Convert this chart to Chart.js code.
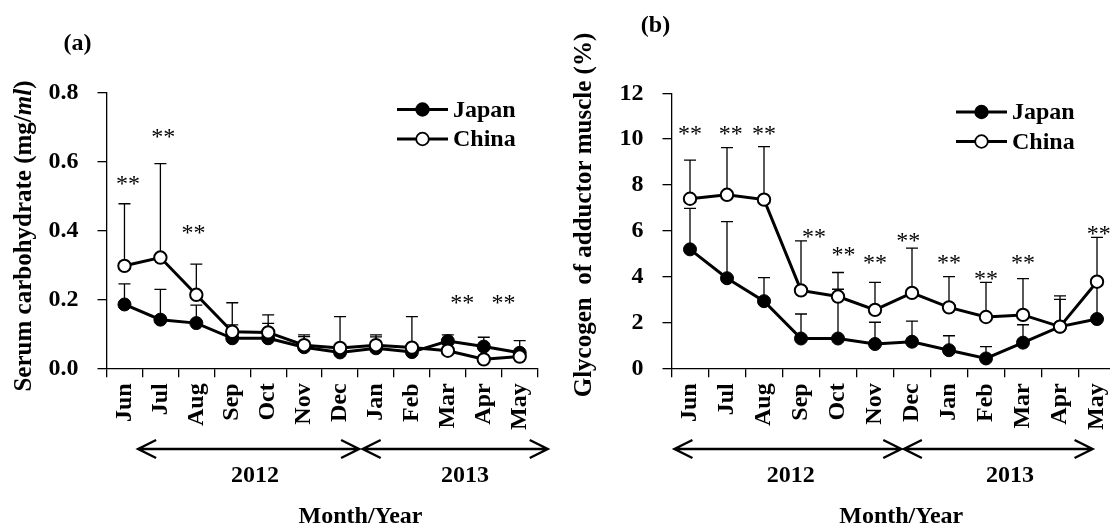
<!DOCTYPE html>
<html>
<head>
<meta charset="utf-8">
<script src="https://cdn.jsdelivr.net/npm/chart.js@4.4.1/dist/chart.umd.min.js"></script>
<style>
  html, body { margin: 0; padding: 0; background: #fff; overflow: hidden; width: 1110px; height: 526px; }
  .panel { position: absolute; top: 0; }
  #panelA { left: 0; }
  #panelB { left: 555px; }
</style>
</head>
<body>
<canvas id="panelA" class="panel" width="555" height="526"></canvas>
<canvas id="panelB" class="panel" width="600" height="526"></canvas>
<script>
// Sampling months, June 2012 to May 2013
const months = ['Jun', 'Jul', 'Aug', 'Sep', 'Oct', 'Nov', 'Dec', 'Jan', 'Feb', 'Mar', 'Apr', 'May'];

// (a) Serum carbohydrate, mg/ml: means and upper SD
const serumJapan   = [0.185, 0.141, 0.131, 0.087, 0.087, 0.061, 0.046, 0.058, 0.047, 0.079, 0.063, 0.045];
const serumJapanSD = [0.060, 0.088, 0.052, 0.039, 0.043, 0.031, 0.012, 0.033, 0.012, 0.018, 0.027, 0.035];
const serumChina   = [0.297, 0.321, 0.213, 0.106, 0.104, 0.067, 0.059, 0.067, 0.060, 0.051, 0.026, 0.034];
const serumChinaSD = [0.180, 0.272, 0.089, 0.084, 0.051, 0.030, 0.091, 0.030, 0.090, 0.020, 0.030, 0.015];
const serumTicks   = [0, 0.2, 0.4, 0.6, 0.8];

// (b) Glycogen of adductor muscle, %: means and upper SD
const glyJapan   = [5.19, 3.93, 2.93, 1.30, 1.30, 1.06, 1.16, 0.79, 0.43, 1.12, 1.82, 2.15];
const glyJapanSD = [1.79, 2.47, 1.03, 1.07, 2.15, 0.95, 0.90, 0.63, 0.52, 0.78, 1.19, 1.50];
const glyChina   = [7.40, 7.57, 7.36, 3.40, 3.13, 2.55, 3.29, 2.66, 2.24, 2.33, 1.82, 3.78];
const glyChinaSD = [1.68, 2.06, 2.31, 2.16, 1.05, 1.20, 1.95, 1.34, 1.51, 1.58, 1.34, 1.93];
const glyTicks   = [0, 2, 4, 6, 8, 10, 12];

// Significance marks (**): month and height in axis units
const sigSerum = [['Jun', 0.546], ['Jul', 0.681], ['Aug', 0.403], ['Mar', 0.200], ['Apr', 0.200]];
const sigGly   = [['Jun', 10.4], ['Jul', 10.4], ['Aug', 10.4], ['Sep', 5.89], ['Oct', 5.13], ['Nov', 4.76],
                  ['Dec', 5.72], ['Jan', 4.76], ['Feb', 4.07], ['Mar', 4.76], ['May', 6.03]];

const SERIF = "'Liberation Serif', 'Times New Roman', serif";
const BOLD24 = 'bold 24px ' + SERIF;
const BOLD25 = 'bold 25px ' + SERIF;

function drawArrow(ctx, x1, x2, y) {
  ctx.beginPath();
  ctx.moveTo(x1, y); ctx.lineTo(x2, y);
  ctx.moveTo(x1 + 18, y - 9); ctx.lineTo(x1, y); ctx.lineTo(x1 + 18, y + 9);
  ctx.moveTo(x2 - 18, y - 9); ctx.lineTo(x2, y); ctx.lineTo(x2 - 18, y + 9);
  ctx.stroke();
}

function drawRotatedTitle(ctx, cx, cy, segments) {
  ctx.save();
  ctx.translate(cx, cy);
  ctx.rotate(-Math.PI / 2);
  ctx.textBaseline = 'middle';
  ctx.textAlign = 'left';
  let total = 0;
  segments.forEach(s => { ctx.font = (s.italic ? 'italic ' : '') + BOLD25; total += ctx.measureText(s.t).width; });
  let x = -total / 2;
  segments.forEach(s => {
    ctx.font = (s.italic ? 'italic ' : '') + BOLD25;
    ctx.fillText(s.t, x, 0);
    x += ctx.measureText(s.t).width;
  });
  ctx.restore();
}

function drawLegend(ctx, x, y) {
  const rows = [['Japan', '#000'], ['China', '#fff']];
  ctx.save();
  rows.forEach((r, k) => {
    const yy = y + k * 29.5;
    ctx.strokeStyle = '#000';
    ctx.lineWidth = 3;
    ctx.beginPath(); ctx.moveTo(x, yy); ctx.lineTo(x + 51, yy); ctx.stroke();
    ctx.beginPath(); ctx.arc(x + 25.5, yy, 6.3, 0, Math.PI * 2);
    ctx.fillStyle = r[1]; ctx.fill();
    ctx.lineWidth = 1.8; ctx.stroke();
    ctx.fillStyle = '#000';
    ctx.font = BOLD24;
    ctx.textBaseline = 'middle';
    ctx.textAlign = 'left';
    ctx.fillText(r[0], x + 56, yy + 1);
  });
  ctx.restore();
}

// Upper-only error bars drawn beneath the series lines
const errorBars = {
  id: 'errorBars',
  beforeDatasetsDraw(chart) {
    const { ctx, scales: { x, y } } = chart;
    ctx.save();
    ctx.strokeStyle = '#000';
    ctx.lineWidth = 1.3;
    chart.data.datasets.forEach(ds => {
      ds.data.forEach((v, i) => {
        const px = x.getPixelForValue(i);
        const p0 = y.getPixelForValue(v);
        const p1 = y.getPixelForValue(v + ds.errorUp[i]);
        ctx.beginPath();
        ctx.moveTo(px, p0); ctx.lineTo(px, p1);
        ctx.moveTo(px - 6, p1); ctx.lineTo(px + 6, p1);
        ctx.stroke();
      });
    });
    ctx.restore();
  }
};

// Panel decorations: letter, axis title, legend, significance marks, year arrows
function decorations(o) {
  return {
    id: 'decor',
    afterDraw(chart) {
      const { ctx, scales: { x, y } } = chart;
      ctx.save();
      ctx.fillStyle = '#000';
      ctx.strokeStyle = '#000';

      ctx.font = BOLD24;
      ctx.textAlign = 'center';
      ctx.textBaseline = 'middle';
      ctx.fillText(o.letter, o.letterPos[0], o.letterPos[1]);

      drawRotatedTitle(ctx, o.titlePos[0], o.titlePos[1], o.title);
      drawLegend(ctx, o.legendPos[0], o.legendPos[1]);

      ctx.font = '24px ' + SERIF;
      ctx.textAlign = 'center';
      ctx.textBaseline = 'alphabetic';
      o.sig.forEach(([m, v]) => {
        const i = months.indexOf(m) + (o.sigShift[m] || 0);
        ctx.fillText('**', x.getPixelForValue(i), y.getPixelForValue(v) + 11);
      });

      ctx.lineWidth = 2.4;
      o.arrows.forEach(a => drawArrow(ctx, x.getPixelForValue(a[0]), x.getPixelForValue(a[1]), 449));
      ctx.font = BOLD24;
      ctx.textBaseline = 'middle';
      o.years.forEach(([label, at]) => ctx.fillText(label, x.getPixelForValue(at), 476));
      ctx.fillText('Month/Year', x.getPixelForValue(o.xTitleAt), 517);
      ctx.restore();
    }
  };
}

function makePanel(id, p) {
  const font = { family: SERIF, size: 24, weight: 'bold' };
  return new Chart(document.getElementById(id), {
    type: 'line',
    data: {
      labels: months,
      datasets: [
        { label: 'Japan', data: p.japan, errorUp: p.japanSD, order: 1,
          borderColor: '#000', borderWidth: 3, tension: 0,
          pointRadius: 6.5, pointBackgroundColor: '#000', pointBorderColor: '#000', pointBorderWidth: 1 },
        { label: 'China', data: p.china, errorUp: p.chinaSD, order: 0,
          borderColor: '#000', borderWidth: 3, tension: 0,
          pointRadius: 6.2, pointBackgroundColor: '#fff', pointBorderColor: '#000', pointBorderWidth: 2 }
      ]
    },
    options: {
      responsive: false,
      animation: false,
      devicePixelRatio: 1,
      layout: { padding: { left: 0, right: p.padRight, top: p.padTop, bottom: 0 } },
      plugins: { legend: { display: false }, tooltip: { enabled: false }, title: { display: false } },
      scales: {
        x: {
          type: 'category',
          offset: true,
          grid: { offset: true, drawOnChartArea: false, drawTicks: true, tickLength: 9, color: '#000', lineWidth: 1.3 },
          border: { color: '#000', width: 1.3 },
          ticks: { color: '#000', font, autoSkip: false, maxRotation: 90, minRotation: 90, padding: 6 },
          afterFit: s => { s.height = p.xHeight; }
        },
        y: {
          min: p.ticks[0],
          max: p.ticks[p.ticks.length - 1],
          afterBuildTicks: s => { s.ticks = p.ticks.map(v => ({ value: v })); },
          grid: { drawOnChartArea: false, drawTicks: true, tickLength: 9, color: '#000', lineWidth: 1.3 },
          border: { color: '#000', width: 1.3 },
          ticks: { color: '#000', font, padding: 19, callback: p.fmt },
          afterFit: s => { s.width = p.yWidth; }
        }
      }
    },
    plugins: [errorBars, decorations(p.decor)]
  });
}

makePanel('panelA', {
  japan: serumJapan, japanSD: serumJapanSD, china: serumChina, chinaSD: serumChinaSD,
  ticks: serumTicks, fmt: v => Number(v).toFixed(1),
  padRight: 12, padTop: 92.3, yWidth: 106.5, xHeight: 157.7,
  decor: {
    letter: '(a)', letterPos: [77.5, 44],
    title: [{ t: 'Serum carbohydrate (mg/' }, { t: 'ml', italic: true }, { t: ')' }],
    titlePos: [25, 236],
    legendPos: [397, 109.5],
    sig: sigSerum, sigShift: { Jun: 0.1, Jul: 0.08, Aug: -0.08, Mar: 0.4, Apr: 0.55 },
    arrows: [[0.38, 6.53], [6.63, 11.78]],
    years: [['2012', 3.63], ['2013', 9.48]],
    xTitleAt: 6.57
  }
});

makePanel('panelB', {
  japan: glyJapan, japanSD: glyJapanSD, china: glyChina, chinaSD: glyChinaSD,
  ticks: glyTicks, fmt: v => String(v),
  padRight: 39.5, padTop: 93.3, yWidth: 116.5, xHeight: 157.7,
  decor: {
    letter: '(b)', letterPos: [100.5, 26],
    title: [{ t: 'Glycogen  of adductor muscle (%)' }],
    titlePos: [30, 215],
    legendPos: [401, 112],
    sig: sigGly, sigShift: { Jul: 0.1, Sep: 0.35, Oct: 0.15, Dec: -0.1, May: 0.05 },
    arrows: [[-0.42, 5.71], [5.78, 10.88]],
    years: [['2012', 2.72], ['2013', 8.65]],
    xTitleAt: 5.71
  }
});
</script>
</body>
</html>
